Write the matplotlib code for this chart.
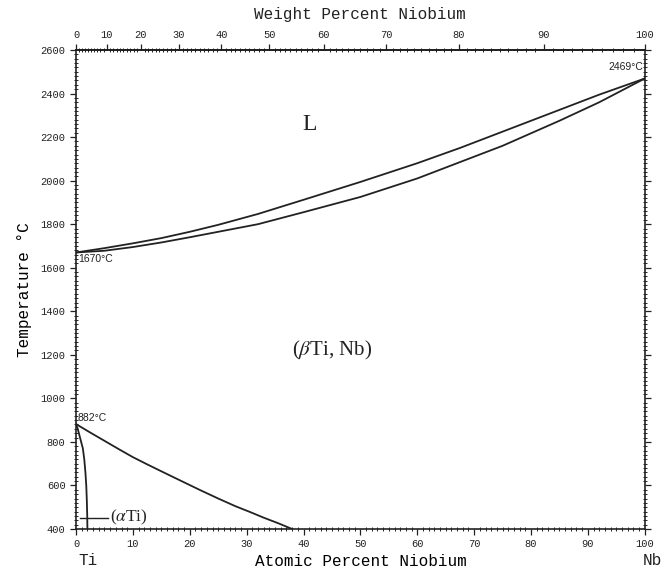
#-----------------------------------------------------------------#
# Ti-Nb phase diagram
#-----------------------------------------------------------------#
import numpy as np
import matplotlib.pyplot as plt
from matplotlib.ticker import MultipleLocator, FixedLocator

#-----------------------------------------------------------------#
# Datos (at% Nb, temperatura en C)

liq_x = [0, 5, 10, 15, 20, 25, 32, 40, 50, 60, 67.5, 75, 85, 92, 100]
liq_y = [1670, 1690, 1712, 1736, 1765, 1797, 1847, 1912, 1994, 2080, 2150,
         2225, 2325, 2395, 2469]

sol_x = [0, 5, 10, 15, 20, 25, 32, 40, 50, 60, 67.5, 75, 85, 92, 100]
sol_y = [1670, 1678, 1695, 1716, 1740, 1765, 1800, 1855, 1925, 2010, 2085,
         2160, 2275, 2360, 2469]

beta_x = [0, 2.5, 5, 7.5, 10, 12.5, 15, 18, 21.8, 25, 28, 30.6, 33, 35.5, 38]
beta_y = [882, 843, 805, 767, 730, 697, 665, 627, 579, 540, 505, 478, 452,
          427, 400]

alpha_x = [0, 0.3, 0.6, 0.9, 1.2, 1.45, 1.65, 1.8, 1.9, 1.97, 2.0]
alpha_y = [882, 860, 830, 800, 770, 720, 660, 600, 530, 460, 400]

wt_ticks = [0, 10, 20, 30, 40, 50, 60, 70, 80, 90, 100]

M_TI = 47.867
M_NB = 92.906

def at_to_wt(a):
    a = np.asarray(a, dtype=float)
    return 100 * a * M_NB / (a * M_NB + (100 - a) * M_TI)

def wt_to_at(w):
    w = np.asarray(w, dtype=float)
    return 100 * (w / M_NB) / (w / M_NB + (100 - w) / M_TI)

#-----------------------------------------------------------------#

plt.rcParams['font.family'] = 'Liberation Mono'
plt.rcParams['mathtext.fontset'] = 'stix'
fig = plt.figure(figsize=(6.64, 5.74), dpi=100)
ax = fig.add_axes([0.1145, 0.0784, 0.8565, 0.8345])

c = '#222222'
lw = 1.3
ax.plot(liq_x, liq_y, color=c, lw=lw)
ax.plot(sol_x, sol_y, color=c, lw=lw)
ax.plot(beta_x, beta_y, color=c, lw=lw)
ax.plot(alpha_x, alpha_y, color=c, lw=lw)
ax.plot([0.7, 5.6], [452, 452], color=c, lw=1.0)

ax.set_xlim(0, 100)
ax.set_ylim(400, 2600)

# ejes
ax.xaxis.set_major_locator(MultipleLocator(10))
ax.xaxis.set_minor_locator(MultipleLocator(1))
ax.yaxis.set_major_locator(MultipleLocator(200))
ax.yaxis.set_minor_locator(MultipleLocator(20))
ax.tick_params(which='major', direction='out', length=4, width=0.9,
               labelsize=7.5, colors=c, right=True)
ax.tick_params(which='minor', direction='inout', length=2.5, width=0.6, right=True)

sec = ax.secondary_xaxis('top', functions=(at_to_wt, wt_to_at))
sec.xaxis.set_major_locator(FixedLocator(wt_ticks))
sec.xaxis.set_minor_locator(MultipleLocator(1))
sec.tick_params(which='major', direction='out', length=4, width=0.9,
                labelsize=7.5, colors=c)
sec.tick_params(which='minor', direction='inout', length=2.5, width=0.6)

for s in ax.spines.values():
    s.set_linewidth(1.2)
    s.set_color(c)
sec.spines['top'].set_linewidth(1.2)

fig.text(0.542, 0.974, 'Weight Percent Niobium', fontsize=11.5,
         ha='center', va='center', color=c)
ax.set_xlabel('Atomic Percent Niobium', fontsize=11.5, labelpad=3)
ax.set_ylabel('Temperature °C', fontsize=11.5, labelpad=6)

# etiquetas
ax.text(0.5, -0.05, 'Ti', transform=ax.get_xaxis_transform(), fontsize=11.5,
        ha='left', va='top', color=c)
ax.text(101.3, -0.05, 'Nb', transform=ax.get_xaxis_transform(), fontsize=11.5,
        ha='center', va='top', color=c)

ax.text(41, 2256, 'L', family='Liberation Serif', fontsize=17,
        ha='center', va='center', color=c)
ax.text(45, 1222, r'($\beta$Ti, Nb)', family='Liberation Serif', fontsize=15,
        ha='center', va='center', color=c)
ax.text(6, 455, r'($\alpha$Ti)', family='Liberation Serif', fontsize=12.5,
        ha='left', va='center', color=c)
ax.text(0.3, 1640, '1670°C', family='Liberation Sans', fontsize=7.5,
        ha='left', va='center', color=c)
ax.text(99.8, 2520, '2469°C', family='Liberation Sans', fontsize=7.5,
        ha='right', va='center', color=c)
ax.text(0.3, 910, '882°C', family='Liberation Sans', fontsize=7.5,
        ha='left', va='center', color=c)

fig.savefig('out.png', dpi=100)
